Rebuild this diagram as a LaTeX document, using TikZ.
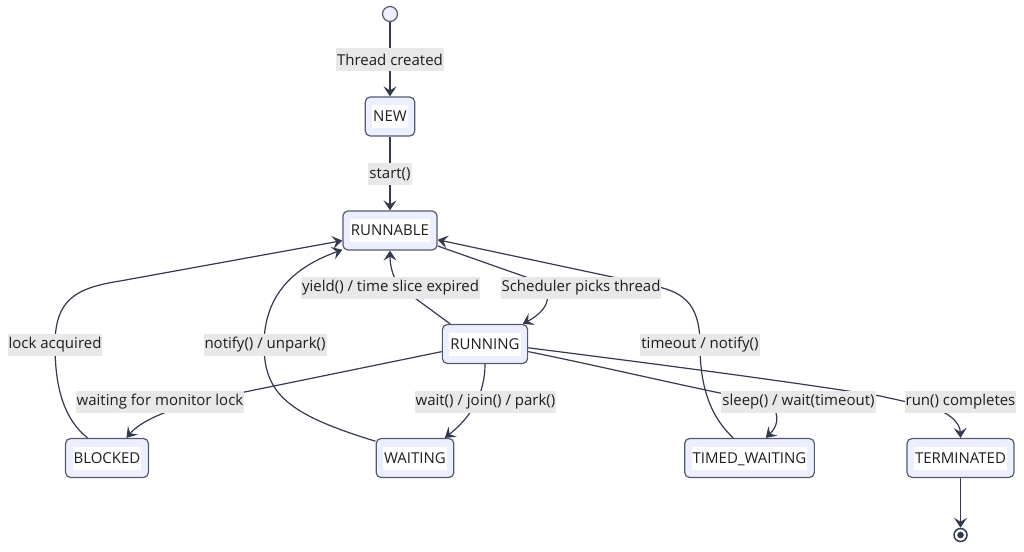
\documentclass[tikz,border=0pt]{standalone}
\usepackage{fontspec}
\setmainfont{Open Sans}
\usetikzlibrary{arrows.meta}
\definecolor{edgec}{RGB}{51,58,79}
\definecolor{statefill}{RGB}{236,239,255}
\definecolor{statedraw}{RGB}{84,90,110}
\definecolor{lblbg}{RGB}{232,232,232}
\definecolor{txt}{RGB}{30,30,30}
\pgfdeclarelayer{bg}
\pgfsetlayers{bg,main}
\newcommand\wbox[1]{{\setlength{\fboxsep}{1pt}\colorbox{white}{\rule[-5.5pt]{0pt}{21pt}#1}}}
\begin{document}
\begin{tikzpicture}[x=1pt,y=-1pt,
  font=\fontsize{15}{17}\selectfont, text=txt,
  state/.style={draw=statedraw, fill=statefill, line width=1.2pt, rounded corners=5pt, minimum height=39pt, inner xsep=7pt, inner ysep=0pt},
  elabel/.style={fill=lblbg, inner xsep=1pt, inner ysep=0pt, minimum height=22pt, text=txt},
  edge/.style={draw=edgec, line width=1.2pt, -{Stealth[length=10pt,width=13pt,inset=4pt]}}]
\useasboundingbox (0,0) rectangle (1024,551);
% states
\node[circle, draw=statedraw, fill=statefill, line width=1.2pt, minimum size=15pt, inner sep=0pt] (start) at (390,14) {};
\node[state] (NEW) at (390,116.5) {\wbox{NEW}};
\node[state] (RUNNABLE) at (390,230.5) {\wbox{RUNNABLE}};
\node[state] (RUNNING) at (485,344) {\wbox{RUNNING}};
\node[state] (BLOCKED) at (107,458) {\wbox{BLOCKED}};
\node[state] (WAITING) at (415,458) {\wbox{WAITING}};
\node[state] (TW) at (749.5,458) {\wbox{TIMED\_WAITING}};
\node[state] (TERM) at (960.5,458) {\wbox{TERMINATED}};
\node[circle, draw=edgec, line width=1.5pt, minimum size=13pt, inner sep=0pt, fill=white] (end) at (960.5,535) {};
\fill[edgec] (end.center) circle (3.3pt);
% labels
\node[elabel] (lThread) at (390,59.5) {Thread created};
\node[elabel] (lStart) at (390,174) {start()};
\node[elabel] (lYield) at (390.5,287.5) {yield() / time slice expired};
\node[elabel] (lSched) at (581,287.5) {Scheduler picks thread};
\node[elabel] (lLock) at (55,345) {lock acquired};
\node[elabel] (lNotify) at (265,345) {notify() / unpark()};
\node[elabel] (lTimeout) at (700,345) {timeout / notify()};
\node[elabel] (lMon) at (160,402) {waiting for monitor lock};
\node[elabel] (lWait) at (485.5,402) {wait() / join() / park()};
\node[elabel] (lSleep) at (798.5,402) {sleep() / wait(timeout)};
\node[elabel] (lRun) at (960.5,402) {run() completes};
% edges
\begin{pgfonlayer}{bg}
\draw[edge] (start) -- (NEW);
\draw[edge] (NEW) -- (RUNNABLE);
\draw[edge] (RUNNABLE.-18) -- (540,282) .. controls (556,296) and (545,312) .. (RUNNING.28);
\draw[edge] (RUNNING.150) -- (404,290) .. controls (394,282) and (390,268) .. (RUNNABLE.south);
\draw[edge] (BLOCKED.134) .. controls (65,420) and (55,390) .. (55,345) .. controls (55,300) and (75,288) .. (120,281) -- (RUNNABLE.192);
\draw[edge] (RUNNING.190) -- (230,395) .. controls (165,408) and (140,422) .. (BLOCKED.46);
\draw[edge] (WAITING.157) .. controls (290,415) and (264,395) .. (264,345) .. controls (264,290) and (300,265) .. (RUNNABLE.202);
\draw[edge] (RUNNING.south) .. controls (485,395) and (470,418) .. (WAITING.34);
\draw[edge] (RUNNING.-10) .. controls (600,366) and (700,390) .. (770,403) .. controls (782,416) and (776,428) .. (TW.51);
\draw[edge] (RUNNING.-5) .. controls (640,362) and (780,380) .. (880,396) -- (930,407) .. controls (948,412) and (960,422) .. (TERM.north);
\draw[edge] (TW.129) .. controls (712,418) and (700,390) .. (700,345) .. controls (700,300) and (680,291) .. (650,285) -- (RUNNABLE.-11);
\draw[edge] (TERM) -- (end);
\end{pgfonlayer}
\end{tikzpicture}
\end{document}
